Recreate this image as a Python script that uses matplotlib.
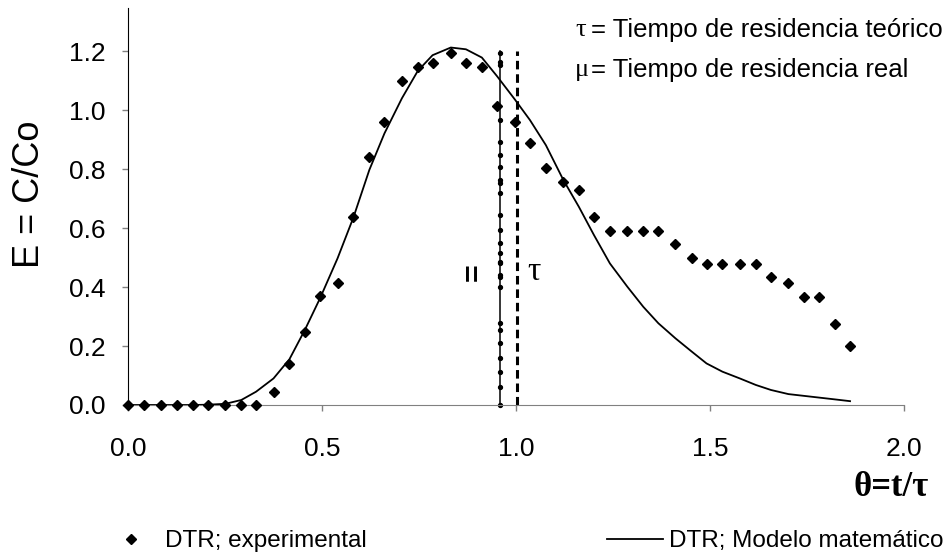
import numpy as np
import matplotlib
matplotlib.use('Agg')
import matplotlib.pyplot as plt
from matplotlib import font_manager
from matplotlib.lines import Line2D

# tiempo adimensional theta = t/tau
theta = [0.000, 0.041, 0.085, 0.126, 0.167, 0.205, 0.251, 0.292, 0.330, 0.375,
         0.416, 0.456, 0.495, 0.540, 0.581, 0.622, 0.661, 0.706, 0.747, 0.785,
         0.832, 0.871, 0.912, 0.951, 0.997, 1.036, 1.077, 1.122, 1.162, 1.201,
         1.242, 1.287, 1.328, 1.367, 1.411, 1.453, 1.491, 1.532, 1.577, 1.618,
         1.657, 1.702, 1.742, 1.782, 1.822, 1.861]

# DTR experimental
e_exp = [0.000, 0.000, 0.000, 0.000, 0.000, 0.000, 0.000, 0.000, 0.000, 0.045,
         0.138, 0.248, 0.369, 0.412, 0.636, 0.842, 0.960, 1.099, 1.147, 1.158,
         1.192, 1.158, 1.147, 1.014, 0.960, 0.889, 0.804, 0.757, 0.729, 0.636,
         0.591, 0.591, 0.591, 0.591, 0.545, 0.499, 0.478, 0.478, 0.478, 0.478,
         0.433, 0.412, 0.367, 0.367, 0.275, 0.200]

# DTR modelo matematico
e_mod = [0.000, 0.000, 0.000, 0.000, 0.000, 0.001, 0.004, 0.017, 0.045, 0.090,
         0.155, 0.255, 0.362, 0.497, 0.636, 0.797, 0.921, 1.040, 1.133, 1.186,
         1.212, 1.206, 1.178, 1.115, 1.036, 0.966, 0.881, 0.763, 0.672, 0.576,
         0.480, 0.401, 0.333, 0.277, 0.226, 0.181, 0.141, 0.113, 0.090, 0.068,
         0.051, 0.037, 0.031, 0.025, 0.019, 0.013]

# tiempos de residencia real y teorico
mu = 0.959
tau = 1.003
line_top = 1.2
mu_marks = [0.000, 0.062, 0.113, 0.158, 0.209, 0.254, 0.277, 0.401, 0.435, 0.441,
            0.480, 0.486, 0.514, 0.548, 0.593, 0.644, 0.718, 0.751, 0.763, 0.808,
            0.847, 0.893, 0.966, 1.153, 1.164, 1.194]

xticks = [0.0, 0.5, 1.0, 1.5, 2.0]
yticks = [0.0, 0.2, 0.4, 0.6, 0.8, 1.0, 1.2]


def pick_font(names):
    for n in names:
        try:
            font_manager.findfont(n, fallback_to_default=False)
            return n
        except Exception:
            pass
    return 'DejaVu Sans'


sans = pick_font(['Liberation Sans', 'Arial'])
narrow = pick_font(['Liberation Sans Narrow', 'Arial Narrow'])
legend_size = 20
if narrow == 'DejaVu Sans':
    narrow = sans
    legend_size = 17.5
serif = pick_font(['Liberation Serif', 'DejaVu Serif'])
plt.rcParams['font.family'] = [sans, 'DejaVu Sans']

fig = plt.figure(figsize=(9.48, 5.55), dpi=100)
ax = fig.add_axes([128 / 948, 150 / 555, 776 / 948, 397 / 555])

ax.plot(theta, e_mod, color='black', lw=1.3, zorder=3)
ax.plot(theta, e_exp, ls='none', marker='D', ms=5.2, color='black',
        zorder=4, clip_on=False)

# lineas verticales de mu y tau
ax.plot([mu, mu], [0, line_top], color='black', lw=1.1, zorder=2)
ax.plot([mu] * len(mu_marks), mu_marks, ls='none', marker='o', ms=2.8,
        color='black', zorder=2, clip_on=False)
ax.plot([tau, tau], [0, line_top], color='black', lw=2.2,
        ls=(0, (2.8, 1.6)), zorder=2)

ax.text(0.893, 0.451, '=', rotation=90, fontsize=22, weight='bold',
        ha='center', va='center')
ax.text(1.046, 0.451, 'τ', family=serif, fontsize=24, ha='center',
        va='center')

ax.set_xlim(0, 2.0)
ax.set_ylim(0, 1.346)
ax.set_xticks(xticks)
ax.set_yticks(yticks)
ax.set_xticklabels(['%.1f' % v for v in xticks])
ax.set_yticklabels(['%.1f' % v for v in yticks])
ax.tick_params(axis='both', direction='out', length=4.3, width=1,
               color='#808080', labelsize=19)
ax.tick_params(axis='y', pad=12)
ax.tick_params(axis='x', pad=18.5)

ax.spines['top'].set_visible(False)
ax.spines['right'].set_visible(False)
ax.spines['left'].set_color('black')
ax.spines['bottom'].set_color('#808080')

ax.set_ylabel('E = C/Co', fontsize=26)
ax.yaxis.set_label_coords(-0.104, 0.53)

fig.text(891 / 948, 1 - 488 / 555, 'θ=t/τ', family=serif, weight='bold',
         fontsize=25, ha='center', va='center')

# notas de tau y mu
fig.text(575 / 948, 1 - 30 / 555, 'τ', family=serif, fontsize=19,
         ha='left', va='center')
fig.text(591 / 948, 1 - 30 / 555, '= Tiempo de residencia teórico',
         fontsize=18.5, ha='left', va='center')
fig.text(575 / 948, 1 - 70 / 555, 'μ', family=serif, fontsize=19,
         ha='left', va='center')
fig.text(591 / 948, 1 - 70 / 555, '= Tiempo de residencia real',
         fontsize=18.5, ha='left', va='center')

handles = [Line2D([], [], ls='none', marker='D', ms=5.0, color='black'),
           Line2D([], [], color='black', lw=1.3)]
fig.legend(handles, ['DTR; experimental', 'DTR; Modelo matemático'],
           loc='center left', bbox_to_anchor=(103 / 948, 1 - 541 / 555),
           ncol=2, frameon=False, prop={'family': narrow, 'size': legend_size},
           handlelength=2.3, handletextpad=0.25, columnspacing=9.9,
           borderpad=0, borderaxespad=0)

fig.savefig('out.png', dpi=100)
